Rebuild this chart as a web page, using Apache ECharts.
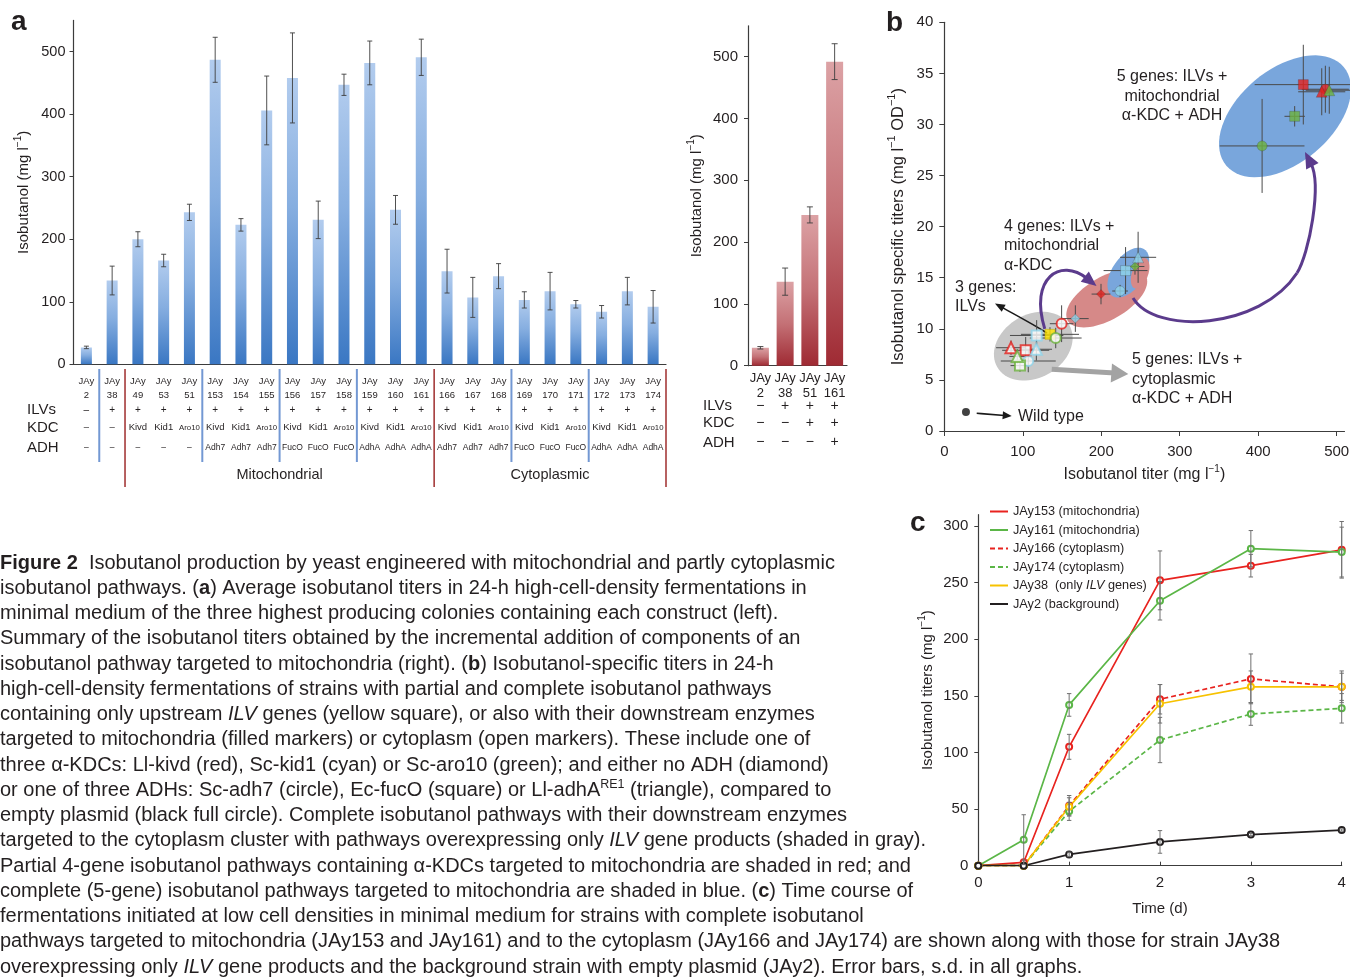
<!DOCTYPE html>
<html><head><meta charset="utf-8">
<script src="https://cdn.jsdelivr.net/npm/echarts@6/dist/echarts.min.js"></script>
<style>html,body{margin:0;padding:0;background:#fff}#c{width:1350px;height:980px}</style>
</head><body><div id="c"></div>
<script>
// ---------- Panel a (left) ----------
const aStrains = ['2','38','49','53','51','153','154','155','156','157','158','159','160','161','166','167','168','169','170','171','172','173','174'];
const aIlv = ['–','+','+','+','+','+','+','+','+','+','+','+','+','+','+','+','+','+','+','+','+','+','+'];
const aKdc = ['–','–','Kivd','Kid1','Aro10','Kivd','Kid1','Aro10','Kivd','Kid1','Aro10','Kivd','Kid1','Aro10','Kivd','Kid1','Aro10','Kivd','Kid1','Aro10','Kivd','Kid1','Aro10'];
const aAdh = ['–','–','–','–','–','Adh7','Adh7','Adh7','FucO','FucO','FucO','AdhA','AdhA','AdhA','Adh7','Adh7','Adh7','FucO','FucO','FucO','AdhA','AdhA','AdhA'];
const aValues = [27,134,200,166,243,487,223,406,458,231,447,482,247,491,149,107,141,103,117,96,84,117,92];
const aErr = [2,23,12,10,13,36,10,55,72,30,17,35,23,29,35,32,20,13,30,6,10,22,26];
const aSubBreaks = [0,4,7,10,16,19];      // thin separators after these columns
const aMajorBreaks = [1,13,22];           // section separators after these columns
const aSections = [{name:'Mitochondrial', from:2, to:13},{name:'Cytoplasmic', from:14, to:22}];
const aRowNames = ['ILVs','KDC','ADH'];
const aTicks = [0,100,200,300,400,500];

// ---------- Panel a (right) ----------
const sStrains = ['2','38','51','161'];
const sIlv = ['−','+','+','+'];
const sKdc = ['−','−','+','+'];
const sAdh = ['−','−','−','+'];
const sValues = [29,136,244,492];
const sErr = [2,22,13,29];

// ---------- Panel b ----------
const bStrain = ['JAy2','JAy38','JAy49','JAy53','JAy51','JAy153','JAy154','JAy155','JAy156','JAy157','JAy158','JAy159','JAy160','JAy161','JAy166','JAy167','JAy168','JAy169','JAy170','JAy171','JAy172','JAy173','JAy174'];
const bLoc = ['wt','ilv','mito','mito','mito','mito','mito','mito','mito','mito','mito','mito','mito','mito','cyto','cyto','cyto','cyto','cyto','cyto','cyto','cyto','cyto'];
const bKdc = aKdc;
const bAdh = aAdh;
const bTiter = [27.6,134.7,199.7,167,243,485.6,224,405,457.5,231,446.5,481,247,490.6,149.5,107,142,103.7,117.7,96.4,85,117.3,93];
const bSpec  = [1.86,9.46,13.4,11.0,16.1,33.45,13.7,27.9,33.9,15.7,30.8,33.2,17.0,33.35,10.5,6.85,9.1,7.9,9.35,6.4,8.15,8.0,7.3];
const bTiterErr = [0,37,12,17,12,30,10,54,62,28,13,30,23,30,15,35,33,30,34,12,19,20,10];
const bSpecErr  = [0,0.7,1.0,1.3,0.8,2.3,0.6,4.6,3.9,2.3,1.0,2.3,2.5,2.3,1.8,1.1,1.0,1.3,1.5,0.6,0.7,1.1,0.7];
const bXTicks = [0,100,200,300,400,500];

// ---------- Panel c ----------
const cTime = [0,0.5,1,2,3,4];
const cNames = ['JAy153 (mitochondria)','JAy161 (mitochondria)','JAy166 (cytoplasm)','JAy174 (cytoplasm)','JAy38  (only ILV genes)','JAy2 (background)'];
const c153 = [0,3,105,252,265,279];   const c153Err = [0,2,11,26,10,25];
const c161 = [0,23,142,234,280,277];  const c161Err = [0,22,10,17,16,22];
const c166 = [0,0,53,147,165,158];    const c166Err = [0,0,9,13,22,14];
const c174 = [0,0,48,111,134,139];    const c174Err = [0,0,8,20,10,13];
const c38  = [0,0,52,143,158,158];    const c38Err  = [0,0,8,17,14,12];
const c2   = [0,0,10,21,27.5,31.5];   const c2Err   = [0,0,2,10,1,1];
const cValues = [c153,c161,c166,c174,c38,c2];
const cErrs = [c153Err,c161Err,c166Err,c174Err,c38Err,c2Err];
const cYTicks = [0,50,100,150,200,250,300];

// ---------- Caption ----------
const caption = [
 '{b|Figure 2}  Isobutanol production by yeast engineered with mitochondrial and partly cytoplasmic',
 'isobutanol pathways. ({b|a}) Average isobutanol titers in 24-h high-cell-density fermentations in',
 'minimal medium of the three highest producing colonies containing each construct (left).',
 'Summary of the isobutanol titers obtained by the incremental addition of components of an',
 'isobutanol pathway targeted to mitochondria (right). ({b|b}) Isobutanol-specific titers in 24-h',
 'high-cell-density fermentations of strains with partial and complete isobutanol pathways',
 'containing only upstream {i|ILV} genes (yellow square), or also with their downstream enzymes',
 'targeted to mitochondria (filled markers) or cytoplasm (open markers). These include one of',
 'three α-KDCs: Ll-kivd (red), Sc-kid1 (cyan) or Sc-aro10 (green); and either no ADH (diamond)',
 'or one of three ADHs: Sc-adh7 (circle), Ec-fucO (square) or Ll-adhA{sup|RE1} (triangle), compared to',
 'empty plasmid (black full circle). Complete isobutanol pathways with their downstream enzymes',
 'targeted to the cytoplasm cluster with pathways overexpressing only {i|ILV} gene products (shaded in gray).',
 'Partial 4-gene isobutanol pathways containing α-KDCs targeted to mitochondria are shaded in red; and',
 'complete (5-gene) isobutanol pathways targeted to mitochondria are shaded in blue. ({b|c}) Time course of',
 'fermentations initiated at low cell densities in minimal medium for strains with complete isobutanol',
 'pathways targeted to mitochondria (JAy153 and JAy161) and to the cytoplasm (JAy166 and JAy174) are shown along with those for strain JAy38',
 'overexpressing only {i|ILV} gene products and the background strain with empty plasmid (JAy2). Error bars, s.d. in all graphs.'
];

// ================= styling / drawing =================
const FONT = '"Liberation Sans", Arial, Helvetica, sans-serif';
const TXT = '#231f20';
const AX = '#3c3c3c';
const CAP = 20;

const kdcColor = {'Kivd':'#e3231f','Kid1':'#8fd3ea','Aro10':'#6db23f'};
const adhSymbol = {'–':'diamond','Adh7':'circle','FucO':'rect','AdhA':'triangle'};
const symSize = {'diamond':10,'circle':10,'rect':10,'triangle':11};

// annotation shapes of panel b (in data units)
const bClusters = [
  {c:[113.4,8.3],  a:[46,2.04],   b:[20,-2.68],   color:'#c8c8c8'},
  {c:[207,13.0],   a:[49.7,2.2],  b:[13.8,-1.83], color:'#d68988'},
  {c:[234.5,15.5], a:[20.7,2.27], b:[16.7,-0.9],  color:'#79a6dc'},
  {c:[249.6,15.43],a:[7.0,1.47],  b:[9.6,-0.27],  color:'#d68988'},
  {c:[434.2,30.8], a:[74.8,4.83], b:[38.5,-3.5],  color:'#79a6dc'}
];
const bArrows = [
  {curves:[[[128,10.0],[108,15],[148,17],[194,14.2]]], color:'#5b3b8c', width:3, head:[15,13]},
  {curves:[[[240.5,13.02],[268.5,9.4],[402.3,9.89],[449.5,15.46]],[[449.5,15.46],[464.8,17.32],[481.4,24.08],[459.7,27.31]]], color:'#5b3b8c', width:3, head:[16,14]},
  {curves:[[[130.9,9.59],[110,10.6],[85,11.6],[64.6,12.49]]], color:'#1a1a1a', width:1.6, head:[10,8]},
  {curves:[[[136.9,6.04],[170,5.9],[200,5.75],[234.5,5.58]]], color:'#a3a3a3', width:5, head:[17,19]},
  {curves:[[[41.3,1.73],[55,1.65],[70,1.56],[85.9,1.47]]], color:'#1a1a1a', width:1.6, head:[9,8]}
];

const cStyle = [
  {color:'#e8231f', type:'solid'},
  {color:'#5bb647', type:'solid'},
  {color:'#e8231f', type:[5,3]},
  {color:'#5bb647', type:[5,3]},
  {color:'#f7c200', type:'solid'},
  {color:'#231f20', type:'solid'}
];

function vErrBar(color, cap, lw){
  return function(params, api){
    const x = api.value(0), lo = api.value(1), hi = api.value(2);
    const a = api.coord([x, lo]), b = api.coord([x, hi]);
    const st = {stroke: color, lineWidth: lw};
    return {type:'group', children:[
      {type:'line', shape:{x1:a[0],y1:a[1],x2:b[0],y2:b[1]}, style:st},
      {type:'line', shape:{x1:a[0]-cap,y1:a[1],x2:a[0]+cap,y2:a[1]}, style:st},
      {type:'line', shape:{x1:b[0]-cap,y1:b[1],x2:b[0]+cap,y2:b[1]}, style:st}
    ]};
  };
}

function supName(main, sup, tail, fs){
  return {
    text: '{n|' + main + '}{s|' + sup + '}{n|' + tail + '}',
    rich: {
      n:{fontSize:fs, fontFamily:FONT, color:TXT, lineHeight:fs+6},
      s:{fontSize:Math.round(fs*0.65), fontFamily:FONT, color:TXT, verticalAlign:'top', lineHeight:fs*0.7}
    }
  };
}

const nameA = supName('Isobutanol (mg l', '−1', ')', 15);
const nameS = supName('Isobutanol (mg l', '−1', ')', 15);
const nameBX = supName('Isobutanol titer (mg l', '−1', ')', 16);
const nameBY = {
  text:'{n|Isobutanol specific titers (mg l}{s|−1}{n| OD}{s|−1}{n|)}',
  rich: supName('', '', '', 16.5).rich
};
const nameCY = supName('Isobutanol titers (mg l', '−1', ')', 15);

function valueAxisCommon(){
  return {
    type:'value', splitLine:{show:false},
    axisLine:{show:true, lineStyle:{color:AX, width:1.2}},
    axisTick:{show:true, length:4, lineStyle:{color:AX}},
    axisLabel:{color:TXT, fontFamily:FONT}
  };
}

// x-axis table (panel a left)
const richA = {
  j:{fontSize:9.5, fontFamily:FONT, color:TXT, lineHeight:14.7},
  p:{fontSize:10, fontFamily:FONT, color:TXT, lineHeight:13.9},
  k:{fontSize:9.5, fontFamily:FONT, color:TXT, lineHeight:21.1},
  ks:{fontSize:7.8, fontFamily:FONT, color:TXT, lineHeight:21.1},
  a:{fontSize:8.5, fontFamily:FONT, color:TXT, lineHeight:19.9}
};
const richS = {
  j:{fontSize:13, fontFamily:FONT, color:TXT, lineHeight:14.3},
  p:{fontSize:14, fontFamily:FONT, color:TXT, lineHeight:11.1},
  k:{fontSize:14, fontFamily:FONT, color:TXT, lineHeight:23.5},
  a:{fontSize:14, fontFamily:FONT, color:TXT, lineHeight:15.3}
};

const gradA = {type:'linear', x:0, y:0, x2:0, y2:1, colorStops:[{offset:0,color:'#b2ccee'},{offset:0.45,color:'#86aee0'},{offset:1,color:'#3a77c3'}]};
const gradS = {type:'linear', x:0, y:0, x2:0, y2:1, colorStops:[{offset:0,color:'#dca2a5'},{offset:0.5,color:'#c47176'},{offset:1,color:'#9f2a33'}]};

const series = [];
// panel a left
series.push({type:'bar', xAxisIndex:0, yAxisIndex:0, data:aValues, barWidth:11, itemStyle:{color:gradA}, z:2});
series.push({type:'custom', xAxisIndex:0, yAxisIndex:0, z:3,
  data:aValues.map((v,i)=>[i, v-aErr[i], v+aErr[i]]), encode:{x:0, y:[1,2]},
  renderItem:vErrBar('#3d3d3d', 2.5, 0.9)});
// panel a right
series.push({type:'bar', xAxisIndex:1, yAxisIndex:1, data:sValues, barWidth:17, itemStyle:{color:gradS}, z:2});
series.push({type:'custom', xAxisIndex:1, yAxisIndex:1, z:3,
  data:sValues.map((v,i)=>[i, v-sErr[i], v+sErr[i]]), encode:{x:0, y:[1,2]},
  renderItem:vErrBar('#3d3d3d', 3, 0.9)});

// panel b: cluster ellipses
series.push({type:'custom', xAxisIndex:2, yAxisIndex:2, z:1, silent:true,
  data:bClusters.map(c=>c.c), encode:{x:0,y:1},
  renderItem:function(params, api){
    const cl = bClusters[params.dataIndex]; const pts = [];
    for(let k=0;k<72;k++){ const t = k/72*2*Math.PI;
      pts.push(api.coord([cl.c[0]+cl.a[0]*Math.cos(t)+cl.b[0]*Math.sin(t), cl.c[1]+cl.a[1]*Math.cos(t)+cl.b[1]*Math.sin(t)]));
    }
    return {type:'polygon', shape:{points:pts, smooth:0}, style:{fill:cl.color}};
  }});
// panel b: arrows
series.push({type:'custom', xAxisIndex:2, yAxisIndex:2, z:2, silent:true,
  data:bArrows.map(a=>a.curves[0][0]), encode:{x:0,y:1},
  renderItem:function(params, api){
    const ar = bArrows[params.dataIndex]; const ch = [];
    ar.curves.forEach((cv, ci)=>{
      const p = cv.map(q=>api.coord(q));
      let end = p[3];
      if(ci === ar.curves.length-1){
        const dx = p[3][0]-p[2][0], dy = p[3][1]-p[2][1], d = Math.hypot(dx,dy);
        end = [p[3][0]-dx/d*ar.head[0]*0.8, p[3][1]-dy/d*ar.head[0]*0.8];
        const ux = dx/d, uy = dy/d, bx = p[3][0]-ux*ar.head[0], by = p[3][1]-uy*ar.head[0], w = ar.head[1]/2;
        ch.push({type:'polygon', z2:2, shape:{points:[p[3],[bx-uy*w,by+ux*w],[bx+uy*w,by-ux*w]]}, style:{fill:ar.color}});
      }
      ch.push({type:'bezierCurve', shape:{x1:p[0][0],y1:p[0][1],cpx1:p[1][0],cpy1:p[1][1],cpx2:p[2][0],cpy2:p[2][1],x2:end[0],y2:end[1]},
        style:{stroke:ar.color, lineWidth:ar.width, fill:null}});
    });
    return {type:'group', children:ch};
  }});
// panel b: error crosses
series.push({type:'custom', xAxisIndex:2, yAxisIndex:2, z:3, silent:true,
  data:bTiter.map((x,i)=>[x, bSpec[i], bTiterErr[i], bSpecErr[i]]), encode:{x:0,y:1},
  renderItem:function(params, api){
    const x=api.value(0), y=api.value(1), ex=api.value(2), ey=api.value(3), ch=[];
    const st = {stroke:'#4a4a4a', lineWidth:1};
    if(ex>0){const a=api.coord([x-ex,y]), b=api.coord([x+ex,y]); ch.push({type:'line', shape:{x1:a[0],y1:a[1],x2:b[0],y2:b[1]}, style:st});}
    if(ey>0){const a=api.coord([x,y-ey]), b=api.coord([x,y+ey]); ch.push({type:'line', shape:{x1:a[0],y1:a[1],x2:b[0],y2:b[1]}, style:st});}
    return {type:'group', children:ch};
  }});
// panel b: markers
series.push({type:'scatter', xAxisIndex:2, yAxisIndex:2, z:4,
  data:bTiter.map((x,i)=>{
    const loc = bLoc[i];
    if(loc==='wt') return {value:[x,bSpec[i]], symbol:'circle', symbolSize:8, itemStyle:{color:'#111'}};
    if(loc==='ilv') return {value:[x,bSpec[i]], symbol:'rect', symbolSize:10, itemStyle:{color:'#ffe500', borderColor:'#b8a300', borderWidth:0.6}};
    const col = kdcColor[bKdc[i]], sym = adhSymbol[bAdh[i]];
    if(loc==='mito') return {value:[x,bSpec[i]], symbol:sym, symbolSize:symSize[sym]-(sym==='diamond'?1:0), itemStyle:{color:col, borderColor:'rgba(40,40,40,0.45)', borderWidth:0.6}};
    return {value:[x,bSpec[i]], symbol:sym, symbolSize:symSize[sym], itemStyle:{color:'#ffffff', borderColor:col, borderWidth:2}};
  })});

// panel c
cValues.forEach((vals, k)=>{
  series.push({type:'line', name:cNames[k], xAxisIndex:3, yAxisIndex:3, z:3,
    data:cTime.map((t,i)=>[t, vals[i]]), symbol:'emptyCircle', symbolSize:6,
    lineStyle:{color:cStyle[k].color, width:1.7, type:cStyle[k].type},
    itemStyle:{color:cStyle[k].color, borderWidth:1}});
  const ed = []; cTime.forEach((t,i)=>{ if(cErrs[k][i]>0) ed.push([t, vals[i]-cErrs[k][i], vals[i]+cErrs[k][i]]); });
  series.push({type:'custom', xAxisIndex:3, yAxisIndex:3, z:4, silent:true, data:ed, encode:{x:0,y:[1,2]},
    renderItem:vErrBar('#707070', 2.2, 1)});
});

const option = {
  animation:false,
  textStyle:{fontFamily:FONT},
  grid:[
    {left:73.5, top:20.4, width:592.5, height:343.9, outerBoundsMode:'none'},
    {left:748, top:25.8, width:99, height:339.9, outerBoundsMode:'none'},
    {left:944.3, top:22.3, width:400.2, height:408.7, outerBoundsMode:'none'},
    {left:978.3, top:514.7, width:363.4, height:351, outerBoundsMode:'none'}
  ],
  legend:{
    left:989, top:505, orient:'vertical', padding:0, itemWidth:18, itemHeight:12, itemGap:5.5,
    data:cNames, itemStyle:{opacity:0},
    textStyle:{fontSize:12.7, fontFamily:FONT, color:TXT,
      rich:{n:{fontSize:12.7, fontFamily:FONT, color:TXT}, i:{fontSize:12.7, fontFamily:FONT, color:TXT, fontStyle:'italic'}}},
    formatter:function(name){
      if(name.indexOf('ILV')>=0){ const p = name.split('ILV'); return '{n|'+p[0]+'}{i|ILV}{n|'+p[1]+'}'; }
      return name;
    }
  },
  xAxis:[
    {type:'category', gridIndex:0, data:aStrains.map(s=>'JAy'+s),
      axisLine:{lineStyle:{color:AX, width:1.2}}, axisTick:{length:5, lineStyle:{color:AX}},
      axisLabel:{interval:0, margin:9.3, rich:richA,
        formatter:function(v, i){
          return ['{j|JAy}', '{j|'+aStrains[i]+'}', '{p|'+aIlv[i]+'}',
            '{'+(aKdc[i].length>4?'ks':'k')+'|'+aKdc[i]+'}', '{a|'+aAdh[i]+'}'].join('\n');
        }}},
    {type:'category', gridIndex:1, data:sStrains.map(s=>'JAy'+s),
      axisLine:{lineStyle:{color:AX, width:1.2}}, axisTick:{length:5, lineStyle:{color:AX}},
      axisLabel:{interval:0, margin:5.8, rich:richS,
        formatter:function(v, i){
          return ['{j|JAy}', '{j|'+sStrains[i]+'}', '{p|'+sIlv[i]+'}', '{k|'+sKdc[i]+'}', '{a|'+sAdh[i]+'}'].join('\n');
        }}},
    Object.assign(valueAxisCommon(), {gridIndex:2, min:0, max:510, interval:100,
      axisTick:{show:true, length:5, lineStyle:{color:AX}, customValues:bXTicks},
      axisLabel:{color:TXT, fontFamily:FONT, fontSize:15, margin:13, customValues:bXTicks},
      name:nameBX.text, nameLocation:'middle', nameGap:33, nameTextStyle:{rich:nameBX.rich}}),
    Object.assign(valueAxisCommon(), {gridIndex:3, min:0, max:4, interval:1,
      axisTick:{show:true, length:4, inside:true, lineStyle:{color:AX}},
      axisLabel:{color:TXT, fontFamily:FONT, fontSize:15, margin:10},
      name:'Time (d)', nameLocation:'middle', nameGap:36, nameTextStyle:{fontSize:15, color:TXT, fontFamily:FONT}})
  ],
  yAxis:[
    Object.assign(valueAxisCommon(), {gridIndex:0, min:0, max:550, interval:100,
      axisTick:{show:true, length:4, lineStyle:{color:AX}, customValues:aTicks},
      axisLabel:{color:TXT, fontFamily:FONT, fontSize:14.5, margin:8, customValues:aTicks},
      name:nameA.text, nameLocation:'middle', nameGap:39, nameRotate:90, nameTextStyle:{rich:nameA.rich}}),
    Object.assign(valueAxisCommon(), {gridIndex:1, min:0, max:550, interval:100,
      axisTick:{show:true, length:4, lineStyle:{color:AX}, customValues:aTicks},
      axisLabel:{color:TXT, fontFamily:FONT, fontSize:15, margin:10, customValues:aTicks},
      name:nameS.text, nameLocation:'middle', nameGap:41, nameRotate:90, nameTextStyle:{rich:nameS.rich}}),
    Object.assign(valueAxisCommon(), {gridIndex:2, min:0, max:40, interval:5,
      axisTick:{show:true, length:5, lineStyle:{color:AX}},
      axisLabel:{color:TXT, fontFamily:FONT, fontSize:15, margin:11},
      name:nameBY.text, nameLocation:'middle', nameGap:35, nameRotate:90, nameTextStyle:{rich:nameBY.rich}}),
    Object.assign(valueAxisCommon(), {gridIndex:3, min:0, max:310, interval:50,
      axisTick:{show:true, length:4, lineStyle:{color:AX}, customValues:cYTicks},
      axisLabel:{color:TXT, fontFamily:FONT, fontSize:15, margin:10, customValues:cYTicks},
      name:nameCY.text, nameLocation:'middle', nameGap:40, nameRotate:90, nameTextStyle:{rich:nameCY.rich}})
  ],
  series:series
};

const chart = echarts.init(document.getElementById('c'), null, {renderer:'canvas', width:1350, height:980});
chart.setOption(option);

// ---------- graphics: table separators, labels, captions ----------
const g = [];
const px = i => chart.convertToPixel({xAxisIndex:0}, 'JAy'+aStrains[i]);
const band = px(1) - px(0);
aSubBreaks.forEach(i=>{
  const x = (px(i)+px(i+1))/2;
  g.push({type:'line', shape:{x1:x,y1:369,x2:x,y2:462}, style:{stroke:'#7398d3', lineWidth:2}});
});
aMajorBreaks.forEach(i=>{
  const x = px(i) + band/2;
  g.push({type:'line', shape:{x1:x,y1:369,x2:x,y2:487}, style:{stroke:'#a53a3a', lineWidth:1.6}});
});
aSections.forEach(s=>{
  g.push({type:'text', x:(px(s.from)+px(s.to))/2, y:475, style:{text:s.name, fontSize:14.5, fontFamily:FONT, fill:TXT, align:'center', verticalAlign:'middle'}});
});
const aRowY = [410, 427.5, 448];
aRowNames.forEach((n,k)=> g.push({type:'text', x:27, y:aRowY[k], style:{text:n, fontSize:15, fontFamily:FONT, fill:TXT, align:'left', verticalAlign:'middle'}}));
const sRowY = [406, 423.3, 442.7];
aRowNames.forEach((n,k)=> g.push({type:'text', x:703, y:sRowY[k], style:{text:n, fontSize:15, fontFamily:FONT, fill:TXT, align:'left', verticalAlign:'middle'}}));

// panel letters
[['a',11,22],['b',886,23],['c',910,523]].forEach(l=> g.push({type:'text', x:l[1], y:l[2], style:{text:l[0], fontSize:28, fontWeight:'bold', fontFamily:FONT, fill:TXT, align:'left', verticalAlign:'middle'}}));

// panel b annotations
const bNotes = [
  {t:'5 genes: ILVs +\nmitochondrial\nα-KDC + ADH', x:1172, y:77, align:'center'},
  {t:'4 genes: ILVs +\nmitochondrial\nα-KDC', x:1004, y:226.5, align:'left'},
  {t:'3 genes:\nILVs', x:955, y:287.5, align:'left'},
  {t:'5 genes: ILVs +\ncytoplasmic\nα-KDC + ADH', x:1132, y:360, align:'left'},
  {t:'Wild type', x:1018, y:416.5, align:'left'}
];
bNotes.forEach(n=> g.push({type:'text', x:n.x, y:n.y-9.75, style:{text:n.t, fontSize:16, lineHeight:19.5, fontFamily:FONT, fill:TXT, align:n.align, verticalAlign:'top'}}));

// caption
const capRich = {
  b:{fontSize:CAP, fontFamily:FONT, fontWeight:'bold', fill:TXT, color:TXT, lineHeight:24},
  i:{fontSize:CAP, fontFamily:FONT, fontStyle:'italic', fill:TXT, color:TXT, lineHeight:24},
  sup:{fontSize:12.5, fontFamily:FONT, fill:TXT, color:TXT, verticalAlign:'top', lineHeight:12}
};
caption.forEach((line, k)=>{
  g.push({type:'text', x:0, y:563 + k*25.25, style:{text:line, fontSize:CAP, fontFamily:FONT, fill:TXT, lineHeight:24, align:'left', verticalAlign:'middle', rich:capRich}});
});

chart.setOption({graphic:g});
</script>
</body></html>
